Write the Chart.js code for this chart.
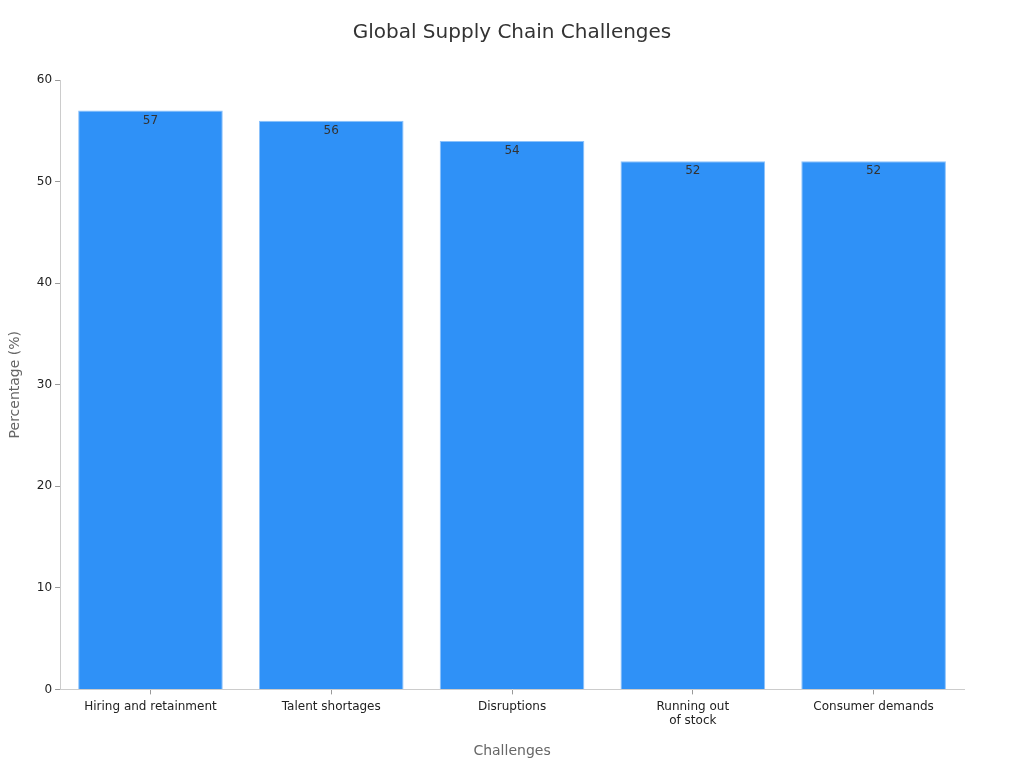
<!DOCTYPE html>
<html>
<head>
<meta charset="utf-8">
<script src="https://cdn.jsdelivr.net/npm/chart.js@4.4.1/dist/chart.umd.min.js"></script>
<style>
  html, body { margin: 0; padding: 0; background: #fff; }
  #wrap { width: 1024px; height: 768px; }
</style>
</head>
<body>
<div id="wrap"><canvas id="chart"></canvas></div>
<script>
// Data
const chartTitle = "Global Supply Chain Challenges";
const categories = ["Hiring and retainment", "Talent shortages", "Disruptions", ["Running out", "of stock"], "Consumer demands"];
const values     = [57, 56, 54, 52, 52];
const yTicks     = [0, 10, 20, 30, 40, 50, 60];

// value labels just inside the top of each bar, plus a title centred on the page
const valueLabels = {
  id: "valueLabels",
  afterDatasetsDraw(chart) {
    const ctx = chart.ctx;
    const meta = chart.getDatasetMeta(0);
    ctx.save();
    ctx.font = "12px 'DejaVu Sans'";
    ctx.fillStyle = "#333";
    ctx.textAlign = "center";
    ctx.textBaseline = "middle";
    meta.data.forEach((bar, i) => {
      ctx.fillText(values[i], bar.x, bar.y + 10);
    });
    ctx.font = "20px 'DejaVu Sans'";
    ctx.fillText(chartTitle, chart.width / 2, 33);
    ctx.restore();
  }
};

new Chart(document.getElementById("chart"), {
  type: "bar",
  data: {
    labels: categories,
    datasets: [{
      data: values,
      backgroundColor: "#2f91f7",
      borderColor: "#8cc2fb",
      borderWidth: 1,
      categoryPercentage: 0.8,
      barPercentage: 1
    }]
  },
  options: {
    responsive: true,
    maintainAspectRatio: false,
    animation: false,
    layout: { padding: { top: 80, right: 60, bottom: 4, left: 3 } },
    plugins: {
      legend: { display: false },
      tooltip: { enabled: false }
    },
    scales: {
      x: {
        offset: true,
        grid: { offset: false, color: "transparent", tickColor: "#999", tickLength: 5 },
        border: { color: "#ccc" },
        ticks: { color: "#222", font: { family: "DejaVu Sans", size: 12 }, maxRotation: 0, padding: 5 },
        title: { display: true, text: "Challenges", color: "#666", font: { family: "DejaVu Sans", size: 14 }, padding: { top: 10 } }
      },
      y: {
        min: 0, max: 60,
        afterBuildTicks: axis => { axis.ticks = yTicks.map(v => ({ value: v })); },
        grid: { color: "transparent", tickColor: "#999", tickLength: 5 },
        border: { color: "#ccc" },
        ticks: { color: "#222", font: { family: "DejaVu Sans", size: 12 }, padding: 3 },
        title: { display: true, text: "Percentage (%)", color: "#666", font: { family: "DejaVu Sans", size: 14 }, padding: { bottom: 10 } }
      }
    }
  },
  plugins: [valueLabels]
});
</script>
</body>
</html>
